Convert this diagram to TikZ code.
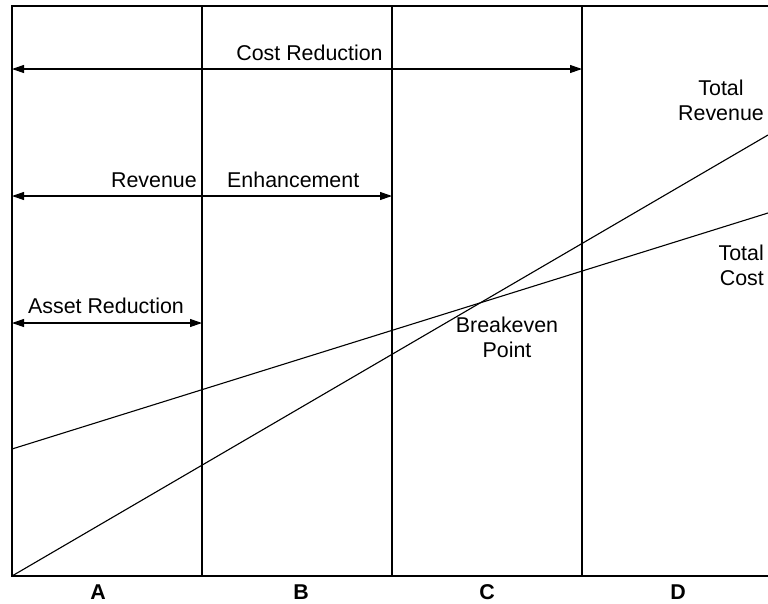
\documentclass[tikz,border=0pt]{standalone}
\usepackage{fontspec}
\setmainfont{Liberation Sans}
\usetikzlibrary{arrows.meta}
\begin{document}
\begin{tikzpicture}[x=1pt,y=-1pt,
  rule/.style={line width=1.1pt},
  span/.style={line width=1.1pt,{Triangle[length=12pt,width=8pt]}-{Triangle[length=12pt,width=8pt]}},
  lbl/.style={inner sep=0pt,anchor=base,font=\fontsize{21.4}{25}\selectfont},
  stack/.style={inner sep=0pt,font=\fontsize{21.4}{25}\selectfont},
  zone/.style={inner sep=0pt,anchor=base,font=\fontsize{21.4}{25}\selectfont\bfseries}]
\useasboundingbox (0,0) rectangle (768,603);
% frame and zone dividers
\coordinate (tl) at (12,6);
\coordinate (tr) at (768,6);
\coordinate (bl) at (12,576);
\coordinate (br) at (768,576);
\coordinate (t1) at (202,6);  \coordinate (b1) at (202,576);
\coordinate (t2) at (392,6);  \coordinate (b2) at (392,576);
\coordinate (t3) at (582,6);  \coordinate (b3) at (582,576);
\draw[rule] (tr) -- (tl) -- (bl) -- (br);
\draw[rule] (t1) -- (b1);
\draw[rule] (t2) -- (b2);
\draw[rule] (t3) -- (b3);
% improvement spans
\coordinate (cr0) at (12,69);  \coordinate (cr1) at (582,69);
\coordinate (re0) at (12,196); \coordinate (re1) at (392,196);
\coordinate (ar0) at (12,323); \coordinate (ar1) at (202,323);
\draw[span] (cr0) -- (cr1);
\draw[span] (re0) -- (re1);
\draw[span] (ar0) -- (ar1);
\node[lbl] (costred) at (309.5,60) {Cost Reduction};
\node[lbl,anchor=base east] (rev) at (197,187) {Revenue};
\node[lbl,anchor=base west] (enh) at (227,187) {Enhancement};
\node[lbl] (assetred) at (106,313) {Asset Reduction};
% revenue and cost lines (multi-line labels are placed by their last baseline)
\coordinate (tr0) at (12,576);  \coordinate (tr1) at (768,135);
\coordinate (tc0) at (12,449);  \coordinate (tc1) at (768,213);
\draw[rule] (tr0) -- (tr1);
\draw[rule] (tc0) -- (tc1);
\node[stack,align=center,anchor=base] (totrev) at (721,120) {Total\\Revenue};
\node[stack,align=right,anchor=base east] (totcost) at (764,285) {Total\\Cost};
\node[stack,align=center,anchor=base] (be) at (507,357) {Breakeven\\Point};
% zone letters
\node[zone] (za) at (98,599) {A};
\node[zone] (zb) at (301,599) {B};
\node[zone] (zc) at (487,599) {C};
\node[zone] (zd) at (678,599) {D};
\end{tikzpicture}
\end{document}
